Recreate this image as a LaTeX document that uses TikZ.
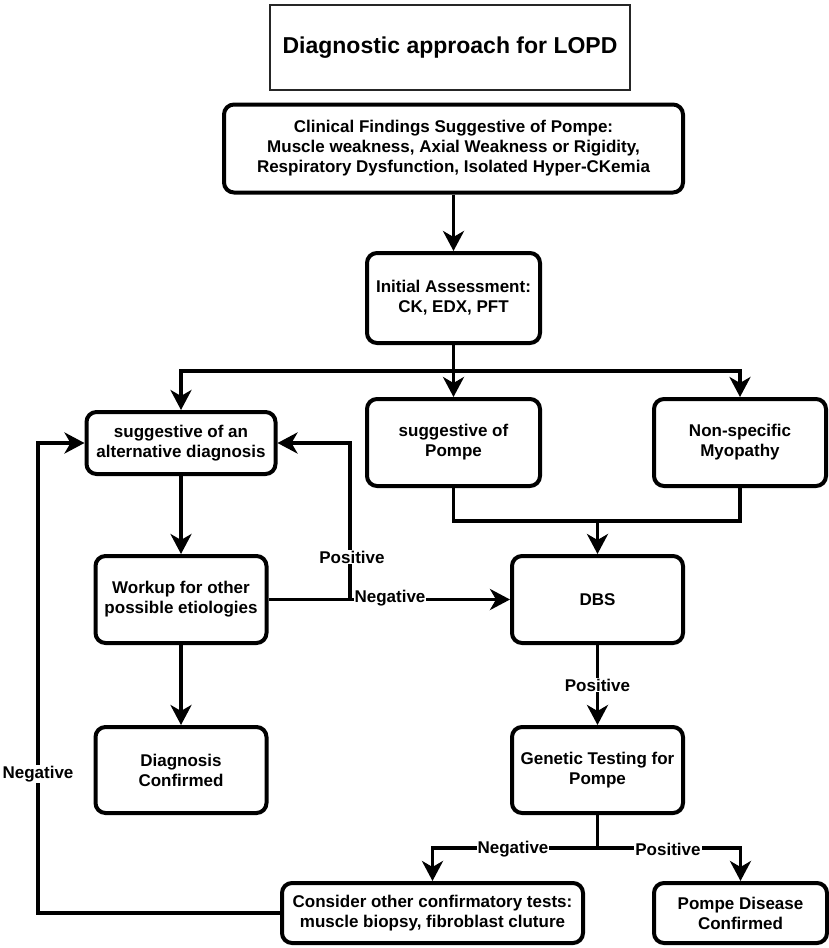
\documentclass[tikz,border=0pt]{standalone}
\usepackage{fontspec}
\setmainfont{Liberation Sans}
\usetikzlibrary{arrows.meta}
\begin{document}
\begin{tikzpicture}[x=1pt,y=-1pt,
  box/.style={draw, line width=4pt, rounded corners=10pt, align=center,
    font=\fontsize{17}{20}\selectfont\bfseries, inner sep=0pt, fill=white},
  titlebox/.style={draw=black!85, line width=1.3pt, align=center,
    font=\fontsize{23}{27}\selectfont\bfseries, inner sep=0pt},
  ln/.style={line width=3.5pt},
  arr/.style={line width=3.5pt, -{Stealth[length=20pt,width=21pt,inset=6pt]}},
  lbl/.style={fill=white, inner sep=1pt, font=\fontsize{17}{20}\selectfont\bfseries}
]
\useasboundingbox (0,0) rectangle (829,948);

\node[titlebox, minimum width=360pt, minimum height=85pt] (title) at (450,47.5) {Diagnostic approach for LOPD};
\node[box, minimum width=459pt, minimum height=88pt] (clin) at (453.5,148.5)
  {Clinical Findings Suggestive of Pompe:\\Muscle weakness, Axial Weakness or Rigidity,\\Respiratory Dysfunction, Isolated Hyper-CKemia};
\node[box, minimum width=173pt, minimum height=90pt] (init) at (453.5,298) {Initial Assessment:\\CK, EDX, PFT};
\node[box, minimum width=189pt, minimum height=62pt] (alt) at (181,443) {suggestive of an\\alternative diagnosis};
\node[box, minimum width=173pt, minimum height=87pt] (pom) at (453.5,442.5) {suggestive of\\Pompe};
\node[box, minimum width=172pt, minimum height=87pt] (nsp) at (740,442.5) {Non-specific\\Myopathy};
\node[box, minimum width=171pt, minimum height=87pt] (work) at (181,599.5) {Workup for other\\possible etiologies};
\node[box, minimum width=171pt, minimum height=87pt] (dbs) at (597.5,599.5) {DBS};
\node[box, minimum width=171pt, minimum height=86pt] (diag) at (181,770) {Diagnosis\\Confirmed};
\node[box, minimum width=171pt, minimum height=86pt] (gen) at (597.5,770) {Genetic Testing for\\Pompe};
\node[box, minimum width=301pt, minimum height=60pt] (cons) at (432.5,913) {Consider other confirmatory tests:\\muscle biopsy, fibroblast cluture};
\node[box, minimum width=173pt, minimum height=60pt] (pdc) at (740.5,913) {Pompe Disease\\Confirmed};

\coordinate (hy) at (0,371);
\coordinate (jy) at (0,521);
\coordinate (by) at (0,848);
\coordinate (px) at (350,0);
\coordinate (lx) at (38,0);

\draw[arr] (clin) -- (init);
\draw[arr] (init.south) -- (pom.north);
\draw[arr] (init.south |- hy) -| (alt.north);
\draw[arr] (init.south |- hy) -| (nsp.north);
\draw[ln] (pom.south) -- (pom.south |- jy) -- (nsp.south |- jy) -- (nsp.south);
\draw[arr] (dbs.north |- jy) -- (dbs.north);
\draw[arr] (alt) -- (work);
\draw[arr] (work) -- (diag);
\draw[arr] (work.east) -- (dbs.west);
\draw[arr] (px |- work.east) -- (px |- alt.east) -- (alt.east);
\node[lbl] (neg1) at (390,598) {Negative};
\node[lbl] (pos1) at (352,557) {Positive};
\draw[arr] (dbs) -- (gen) node[lbl, midway] (pos2) {Positive};
\draw[ln] (gen.south) -- (gen.south |- by);
\draw[arr] (gen.south |- by) -| (cons.north);
\draw[arr] (gen.south |- by) -| (pdc.north);
\node[lbl] (neg2) at (513,849) {Negative};
\node[lbl] (pos3) at (668,849) {Positive};
\draw[arr] (cons.west) -- (lx |- cons.west) -- (lx |- alt.west) -- (alt.west);
\node[lbl] (neg3) at (38,774) {Negative};
\end{tikzpicture}
\end{document}
